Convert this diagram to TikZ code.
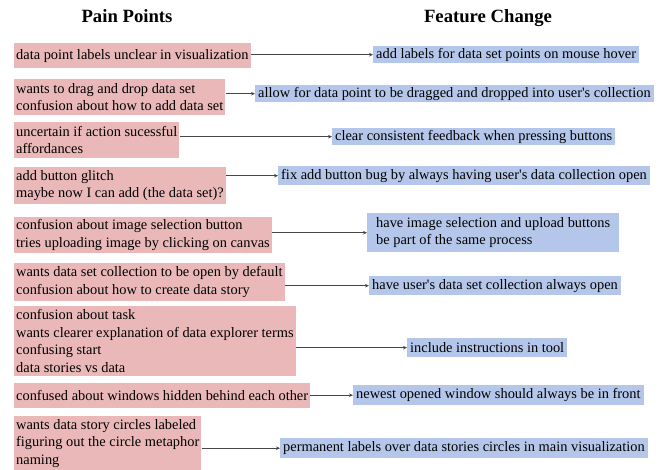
\documentclass[tikz,border=0pt]{standalone}
\usepackage{fontspec}
\setmainfont{Liberation Serif}
\newfontfamily\boardfont{Liberation Serif}
\usetikzlibrary{arrows.meta}
\definecolor{painpink}{RGB}{234,184,184}
\definecolor{featureblue}{RGB}{180,199,234}
\definecolor{linkgray}{RGB}{70,70,70}

\begin{document}
\begin{tikzpicture}[x=1pt,y=-1pt,>={Stealth[length=4pt,width=3.5pt]},
  head/.style={anchor=base,font=\boardfont\fontsize{18.7}{22}\selectfont\bfseries},
  pain/.style={fill=painpink,anchor=north west,align=left,inner xsep=2pt,inner ysep=0pt,
   font=\boardfont\fontsize{14.4}{17.5}\selectfont},
  change/.style={fill=featureblue,anchor=north west,align=left,inner xsep=3pt,inner ysep=0pt,
   minimum height=19pt,font=\boardfont\fontsize{14.4}{17.5}\selectfont},
  link/.style={->,linkgray,line width=.8pt}]
 \useasboundingbox (0,0) rectangle (664,469);
 % column heads
 \node[head] (hpain) at (127,22) {Pain Points};
 \node[head] (hchange) at (488,22) {Feature Change};
 % pain points
 \node[pain,minimum height=25pt] (p1) at (14,43) {data point labels unclear in visualization};
 \node[pain,minimum height=36pt] (p2) at (14,79) {wants to drag and drop data set\\confusion about how to add data set};
 \node[pain,minimum height=36pt] (p3) at (14,122) {uncertain if action sucessful\\affordances};
 \node[pain,minimum height=37pt] (p4) at (14,167) {add button glitch\\maybe now I can add (the data set)?};
 \node[pain,minimum height=36pt] (p5) at (14,217) {confusion about image selection button\\tries uploading image by clicking on canvas};
 \node[pain,minimum height=38pt] (p6) at (14,263) {wants data set collection to be open by default\\confusion about how to create data story};
 \node[pain,minimum height=70pt] (p7) at (14,306) {confusion about task\\wants clearer explanation of data explorer terms\\confusing start\\data stories vs data};
 \node[pain,minimum height=25pt] (p8) at (14,383) {confused about windows hidden behind each other};
 \node[pain,minimum height=54pt] (p9) at (14,416) {wants data story circles labeled\\figuring out the circle metaphor\\naming};
 % feature changes
 \node[change,minimum height=17pt] (b1) at (373,46) {add labels for data set points on mouse hover};
 \node[change,minimum height=17pt] (b2) at (255,85) {allow for data point to be dragged and dropped into user\textquotesingle s collection};
 \node[change,minimum height=17pt] (b3) at (332,128) {clear consistent feedback when pressing buttons};
 \node[change] (b4) at (278,166) {fix add button bug by always having user\textquotesingle s data collection open};
 \node[change,minimum height=39pt,inner xsep=9pt] (b5) at (367,213) {have image selection and upload buttons\\be part of the same process};
 \node[change] (b6) at (369,276) {have user\textquotesingle s data set collection always open};
 \node[change] (b7) at (407,338) {include instructions in tool};
 \node[change,minimum height=20pt] (b8) at (353,385) {newest opened window should always be in front};
 \node[change,minimum height=20pt] (b9) at (280,438) {permanent labels over data stories circles in main visualization};
 % links
 \draw[link] (b1.west -| p1.east) -- (b1.west);
 \draw[link] (b2.west -| p2.east) -- (b2.west);
 \draw[link] (b3.west -| p3.east) -- (b3.west);
 \draw[link] (b4.west -| p4.east) -- (b4.west);
 \draw[link] (b5.west -| p5.east) -- (b5.west);
 \draw[link] (b6.west -| p6.east) -- (b6.west);
 \draw[link] (b7.west -| p7.east) -- (b7.west);
 \draw[link] (b8.west -| p8.east) -- (b8.west);
 \draw[link] (b9.west -| p9.east) -- (b9.west);
\end{tikzpicture}
\end{document}
